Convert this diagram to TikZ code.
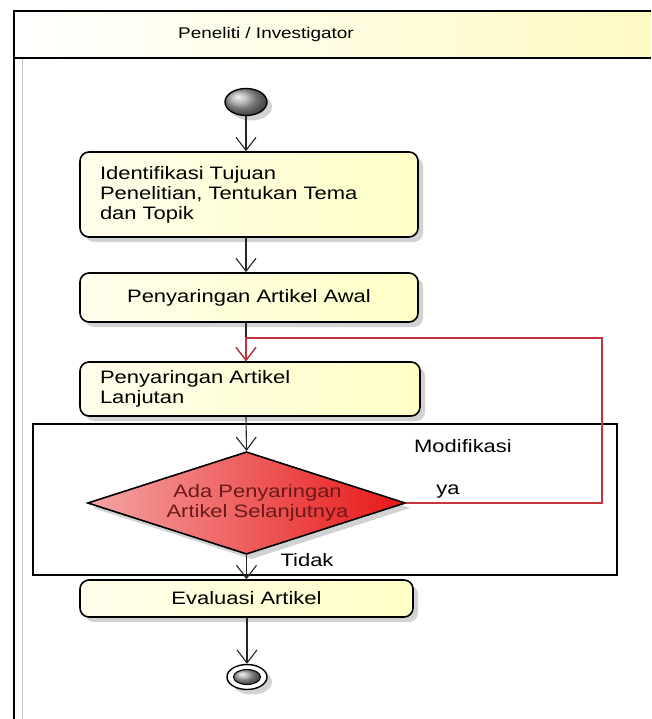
\documentclass[tikz,border=0pt]{standalone}
\usepackage{fontspec}
\setmainfont[FakeStretch=1.22]{Liberation Sans}
\usetikzlibrary{arrows.meta,shapes.geometric,shadows}
\definecolor{boxL}{RGB}{255,253,235}
\definecolor{boxR}{RGB}{255,255,198}
\definecolor{hdrR}{RGB}{255,250,195}
\definecolor{diaL}{RGB}{245,165,165}
\definecolor{diaR}{RGB}{232,22,22}
\definecolor{diaT}{RGB}{105,25,25}
\definecolor{loopred}{RGB}{200,50,60}
\tikzset{
  sh/.style={drop shadow={shadow xshift=5pt,shadow yshift=-5pt,fill=black!35,opacity=0.5}},
  actbox/.style={draw=black, line width=1.6pt, rounded corners=9pt, left color=boxL, right color=boxR, sh, inner sep=0pt, font=\fontsize{18}{20}\selectfont},
  arr/.style={line width=1.1pt, draw=black!85, -{Straight Barb[length=13pt,width=20pt]}},
  redarr/.style={line width=1.1pt, draw=loopred, -{Straight Barb[length=13pt,width=20pt]}},
  lbl/.style={font=\fontsize{18}{20}\selectfont, inner sep=0pt},
}
\begin{document}
\begin{tikzpicture}[x=1pt,y=-1pt]
\useasboundingbox (0,0) rectangle (651,719);
\fill[white] (0,0) rectangle (651,719);
% swimlane
\shade[left color=white, right color=hdrR] (14,11) rectangle (651,58);
\draw[black!25, line width=1pt] (22,58) -- (22,719);
\draw[line width=2.5pt] (651,11) -- (14,11) -- (14,719);
\draw[line width=2.5pt] (14,58) -- (651,58);
\node[font=\fontsize{15.5}{18}\selectfont, inner sep=0pt] (lane) at (266,34) {Peneliti / Investigator};
% modification frame
\node[draw, line width=1.2pt, minimum width=584pt, minimum height=151pt, inner sep=0pt] (modf) at (325,499.5) {};
\node[lbl, anchor=center] (modl) at (463,446) {Modifikasi};
% start
\node[ellipse, draw, line width=1.4pt, minimum width=42pt, minimum height=27pt, inner sep=0pt, ball color=gray!70, sh] (init) at (246,102) {};
% activities
\node[actbox, minimum width=338pt, minimum height=85pt, text width=298pt, align=left] (b1) at (249,194.5) {Identifikasi Tujuan\\Penelitian, Tentukan Tema\\dan Topik};
\node[actbox, minimum width=338pt, minimum height=49pt, align=center] (b2) at (249,297.5) {Penyaringan Artikel Awal};
\node[actbox, minimum width=340pt, minimum height=54pt, text width=300pt, align=left] (b3) at (250,389) {Penyaringan Artikel\\Lanjutan};
\node[diamond, aspect=3.1, draw=black, line width=1.6pt, left color=diaL, right color=diaR, inner sep=0pt, minimum width=313pt, minimum height=100pt, sh, font=\fontsize{18}{20}\selectfont, text=diaT, align=center] (dia) at (246.5,503) {\hspace*{22pt}Ada Penyaringan\\\hspace*{22pt}Artikel Selanjutnya};
\node[actbox, minimum width=333pt, minimum height=37pt, align=center] (b4) at (246.5,598.5) {Evaluasi Artikel};
% end
\node[ellipse, draw, line width=1.4pt, fill=white, minimum width=40pt, minimum height=25pt, inner sep=0pt, sh] (fin) at (247,677) {};
\node[ellipse, draw, line width=1pt, ball color=gray!70, minimum width=27pt, minimum height=15pt, inner sep=0pt] (fincore) at (fin) {};
% labels
\node[lbl] (ya) at (448,492) {ya};
\node[lbl] (tidak) at (307,560) {Tidak};
% connectors
\coordinate (lpA) at (602,338);
\draw[arr] (init.south) -- (b1.north -| init);
\draw[arr] (b1.south -| init) -- (b2.north -| init);
\draw[arr] (b2.south -| init) -- (b3.north -| init);
\draw[redarr] (dia.east) -- (dia.east -| lpA) -- (lpA) -- (lpA -| init) -- (b3.north -| init);
\draw[arr] (b3.south -| init) -- (dia.north);
\draw[arr] (dia.south) -- (b4.north -| dia.south);
\draw[arr] (b4.south -| fin) -- (fin.north);
\end{tikzpicture}
\end{document}
